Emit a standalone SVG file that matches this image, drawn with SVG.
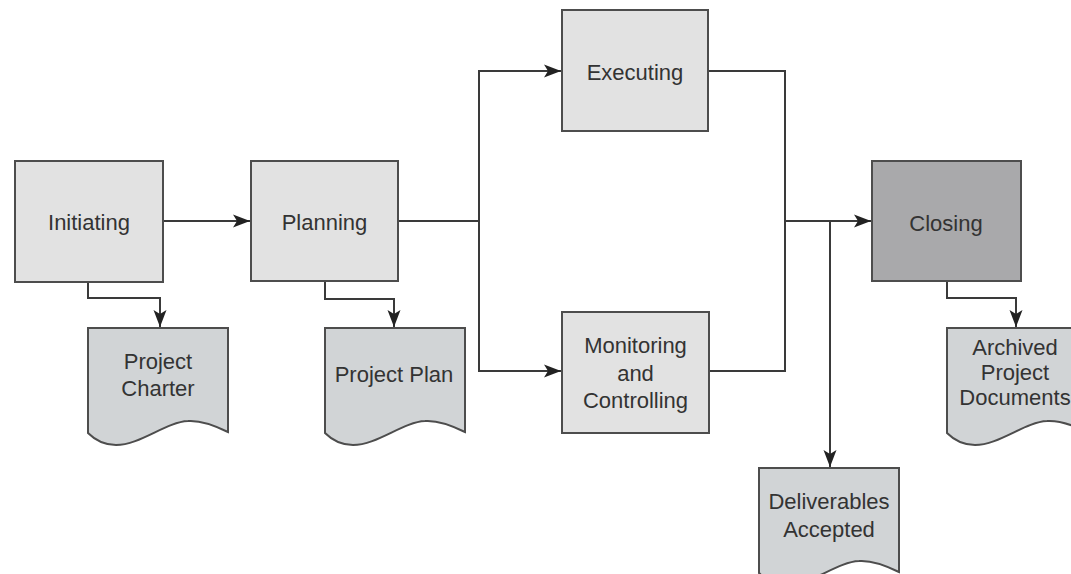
<svg xmlns="http://www.w3.org/2000/svg" width="1071" height="574" viewBox="0 0 1071 574">
<style>
.box{fill:#e2e2e2;stroke:#4d4d4d;stroke-width:2}
.dark{fill:#a9a9ab}
.doc{fill:#d1d4d6;stroke:#4d4d4d;stroke-width:2}
.t{font-family:"Liberation Sans",Arial,sans-serif;font-size:22px;fill:#333;text-anchor:middle}
.c{fill:none;stroke:#3a3a3a;stroke-width:2}
</style>
<defs>
<marker id="ah" markerUnits="userSpaceOnUse" markerWidth="20" markerHeight="16" refX="17" refY="8" orient="auto">
<path d="M0,1.5 L17,8 L0,14.5 L4,8 Z" fill="#222"/>
</marker>
<path id="docshape" d="M0,0 H140 V104 C128,98 114,92 100,93 C78,94 52,117 28,117 C16,117 7,112 0,105 Z"/>
</defs>

<g id="connectors">
<path class="c" d="M163,221 H250" marker-end="url(#ah)"/>
<path class="c" d="M88,282 V298 H160 V327" marker-end="url(#ah)"/>
<path class="c" d="M325,281 V299 H394 V327" marker-end="url(#ah)"/>
<path class="c" d="M398,221 H479 V71 H561" marker-end="url(#ah)"/>
<path class="c" d="M479,221 V371 H561" marker-end="url(#ah)"/>
<path class="c" d="M708,71 H785 V371 H709"/>
<path class="c" d="M785,221 H871" marker-end="url(#ah)"/>
<path class="c" d="M830,221 V467" marker-end="url(#ah)"/>
<path class="c" d="M947,281 V298 H1016 V327" marker-end="url(#ah)"/>
</g>

<g id="initiating">
<rect class="box" x="15" y="161" width="148" height="121"/>
<text class="t" x="89" y="230">Initiating</text>
</g>
<g id="planning">
<rect class="box" x="251" y="161" width="147" height="120"/>
<text class="t" x="324.5" y="230">Planning</text>
</g>
<g id="executing">
<rect class="box" x="562" y="10" width="146" height="121"/>
<text class="t" x="635" y="80">Executing</text>
</g>
<g id="monitoring">
<rect class="box" x="562" y="312" width="147" height="121"/>
<text class="t" x="635.5" y="353">Monitoring</text>
<text class="t" x="635.5" y="381">and</text>
<text class="t" x="635.5" y="408">Controlling</text>
</g>
<g id="closing">
<rect class="box dark" x="872" y="161" width="149" height="120"/>
<text class="t" x="946" y="231">Closing</text>
</g>
<g id="project-charter">
<use href="#docshape" class="doc" transform="translate(88,328)"/>
<text class="t" x="158" y="369">Project</text>
<text class="t" x="158" y="396">Charter</text>
</g>
<g id="project-plan">
<use href="#docshape" class="doc" transform="translate(325,328)"/>
<text class="t" x="394" y="382">Project Plan</text>
</g>
<g id="deliverables-accepted">
<use href="#docshape" class="doc" transform="translate(759,468)"/>
<text class="t" x="829" y="509">Deliverables</text>
<text class="t" x="829" y="537">Accepted</text>
</g>
<g id="archived-project-documents">
<use href="#docshape" class="doc" transform="translate(947,328)"/>
<text class="t" x="1015" y="355">Archived</text>
<text class="t" x="1015" y="380">Project</text>
<text class="t" x="1015" y="405">Documents</text>
</g>
</svg>
